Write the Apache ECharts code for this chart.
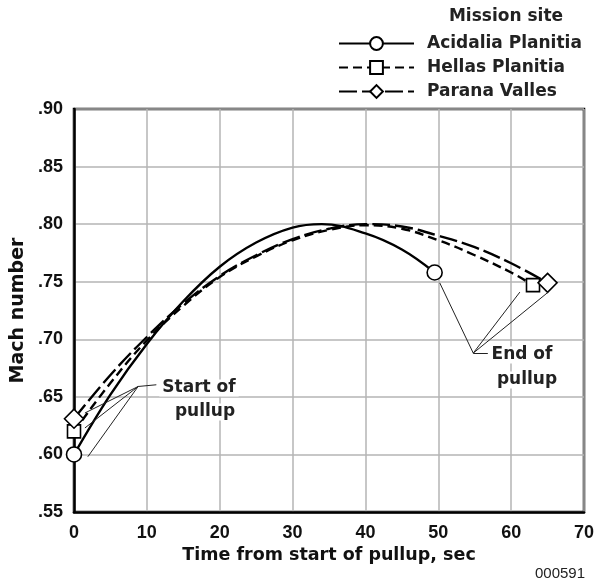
<!DOCTYPE html>
<html>
<head>
<meta charset="utf-8">
<script src="https://cdn.jsdelivr.net/npm/echarts@6/dist/echarts.min.js"></script>
<style>
html, body { margin: 0; padding: 0; background: #fff; }
#main { width: 599px; height: 584px; }
</style>
</head>
<body>
<div id="main"></div>
<script>
// Mach number vs time from start of pullup, per mission site
const acidaliaX = [0, 5, 10, 15, 20, 25, 30, 34, 40, 45, 49.5];
const acidaliaY = [0.600, 0.652, 0.696, 0.733, 0.763, 0.784, 0.797, 0.800, 0.792, 0.778, 0.758];

const hellasX = [0, 5, 10, 15, 20, 25, 30, 35, 40, 45, 50, 55, 60, 63];
const hellasY = [0.620, 0.662, 0.699, 0.729, 0.754, 0.772, 0.786, 0.795, 0.799, 0.796, 0.786, 0.773, 0.758, 0.747];

const paranaX = [0, 5, 10, 15, 20, 25, 30, 35, 40, 45, 50, 55, 60, 65];
const paranaY = [0.631, 0.669, 0.702, 0.731, 0.755, 0.773, 0.787, 0.796, 0.800, 0.798, 0.790, 0.780, 0.766, 0.749];

const siteNames = ['Acidalia Planitia', 'Hellas Planitia', 'Parana Valles'];
const xTicks = [0, 10, 20, 30, 40, 50, 60, 70];

// leader lines for the callouts (data coordinates)
const startHub = [8.8, 0.659];
const startTail = [11.3, 0.6605];
const startTargets = [[1.5, 0.636], [1.5, 0.623], [1.9, 0.598]];
const endHub = [54.8, 0.688];
const endTail = [56.8, 0.688];
const endTargets = [[50.2, 0.749], [61.2, 0.741], [65.1, 0.741]];

const NUM_FONT = 'Liberation Sans, Arial, sans-serif';
const WORD_FONT = 'DejaVu Sans, Liberation Sans, sans-serif';

function pts(xs, ys) {
  return xs.map(function (x, i) {
    const item = { value: [x, ys[i]] };
    if (i !== 0 && i !== xs.length - 1) item.symbol = 'none';
    return item;
  });
}

function leaders(hub, tail, targets) {
  const segs = [[{ coord: hub }, { coord: tail }]];
  targets.forEach(function (t) { segs.push([{ coord: hub }, { coord: t }]); });
  return segs;
}

const chart = echarts.init(document.getElementById('main'));

const markerStyle = { color: '#fff', borderColor: '#000', borderWidth: 1.6 };

function note(text, x, y) {
  return {
    type: 'text', x: x, y: y, z: 10,
    style: {
      text: text, font: 'bold 17px ' + WORD_FONT, fill: '#222',
      align: 'center', verticalAlign: 'middle',
      backgroundColor: '#fff', padding: [0, 3]
    }
  };
}

chart.setOption({
  animation: false,
  textStyle: { fontFamily: WORD_FONT },
  grid: {
    left: 74, right: 15, top: 109, bottom: 72,
    show: true, borderColor: '#000', borderWidth: 2.5, backgroundColor: '#fff'
  },
  legend: {
    orient: 'vertical',
    left: 333, top: 30,
    itemWidth: 75, itemHeight: 16, itemGap: 7,
    data: siteNames,
    textStyle: {
      fontFamily: WORD_FONT, fontWeight: 'bold', fontSize: 17, lineHeight: 16,
      color: '#222', padding: [0, 0, 0, 8]
    }
  },
  xAxis: {
    type: 'value',
    min: 0, max: 70, interval: 10,
    name: 'Time from start of pullup, sec',
    nameLocation: 'middle',
    nameGap: 32,
    nameTextStyle: { fontSize: 17.5, fontWeight: 'bold', color: '#111', fontFamily: WORD_FONT },
    axisLine: { show: true, lineStyle: { color: '#000', width: 2.5 } },
    axisTick: { show: false },
    splitLine: { show: true, lineStyle: { color: '#b4b4b4', width: 1.5 } },
    axisLabel: {
      margin: 12, color: '#111', fontSize: 18, fontWeight: 'bold', fontFamily: NUM_FONT,
      formatter: function (v) { return xTicks.indexOf(v) >= 0 ? String(v) : ''; }
    }
  },
  yAxis: {
    type: 'value',
    min: 0.55, max: 0.90, interval: 0.05,
    name: 'Mach number',
    nameLocation: 'middle',
    nameGap: 43,
    nameTextStyle: { fontSize: 19, fontWeight: 'bold', color: '#111', fontFamily: WORD_FONT },
    axisLine: { show: true, lineStyle: { color: '#000', width: 2.5 } },
    axisTick: { show: false },
    splitLine: { show: true, lineStyle: { color: '#b4b4b4', width: 1.5 } },
    axisLabel: {
      margin: 11, color: '#111', fontSize: 18, fontWeight: 'bold', fontFamily: NUM_FONT,
      formatter: function (v) { return v.toFixed(2).replace(/^0/, ''); }
    }
  },
  series: [
    {
      name: siteNames[0],
      type: 'line',
      smooth: 0.4,
      symbol: 'circle', symbolSize: 15,
      showAllSymbol: true,
      itemStyle: markerStyle,
      lineStyle: { color: '#000', width: 2.4, type: 'solid' },
      z: 3,
      data: pts(acidaliaX, acidaliaY),
      markLine: {
        silent: true,
        symbol: ['none', 'none'],
        label: { show: false },
        lineStyle: { color: '#222', width: 1, type: 'solid' },
        data: leaders(startHub, startTail, startTargets).concat(leaders(endHub, endTail, endTargets))
      }
    },
    {
      name: siteNames[1],
      type: 'line',
      smooth: 0.4,
      symbol: 'rect', symbolSize: 13,
      showAllSymbol: true,
      itemStyle: markerStyle,
      lineStyle: { color: '#000', width: 2.4, type: [9, 5] },
      z: 3,
      data: pts(hellasX, hellasY)
    },
    {
      name: siteNames[2],
      type: 'line',
      smooth: 0.4,
      symbol: 'diamond', symbolSize: 19,
      showAllSymbol: true,
      itemStyle: markerStyle,
      lineStyle: { color: '#000', width: 2.4, type: [18, 5] },
      z: 3,
      data: pts(paranaX, paranaY)
    }
  ],
  graphic: [
    { type: 'text', x: 506, y: 17, style: { text: 'Mission site', font: 'bold 17px ' + WORD_FONT, fill: '#222', align: 'center', verticalAlign: 'middle' } },
    { type: 'text', x: 585, y: 574, style: { text: '000591', font: '15px ' + NUM_FONT, fill: '#222', align: 'right', verticalAlign: 'middle' } },
    note('Start of', 199, 388),
    note('pullup', 205, 412),
    note('End of', 522, 355),
    note('pullup', 527, 380)
  ]
});
</script>
</body>
</html>
